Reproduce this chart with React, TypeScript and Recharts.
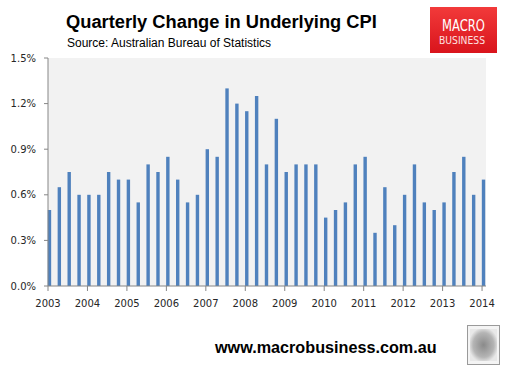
import { BarChart, Bar, XAxis, YAxis, CartesianGrid } from 'recharts'

const BAR_COLOR = '#4f81bd'
const AXIS_COLOR = '#868686'
const LABEL_COLOR = '#262626'

// quarterly change in underlying CPI, %, 2003 onwards
const QUARTER_VALUES = [
  0.5, 0.65, 0.75, 0.6,
  0.6, 0.6, 0.75, 0.7,
  0.7, 0.55, 0.8, 0.75,
  0.85, 0.7, 0.55, 0.6,
  0.9, 0.85, 1.3, 1.2,
  1.15, 1.25, 0.8, 1.1,
  0.75, 0.8, 0.8, 0.8,
  0.45, 0.5, 0.55, 0.8,
  0.85, 0.35, 0.65, 0.4,
  0.6, 0.8, 0.55, 0.5,
  0.55, 0.75, 0.85, 0.6,
  0.7,
]
const YEAR_LABELS = ['2003', '2004', '2005', '2006', '2007', '2008', '2009', '2010', '2011', '2012', '2013', '2014']
const Y_TICKS = [0, 0.3, 0.6, 0.9, 1.2, 1.5]

const data = QUARTER_VALUES.map((value, q) => ({ q, value }))
const yearTicks = YEAR_LABELS.map((_, i) => i * 4)

const tickStyle = { fontFamily: 'DejaVu Sans', fontSize: 10, fill: LABEL_COLOR }

// excel draws each bar starting at its date, not centred on it
function LeftBar(props: any) {
  const { x, y, width, height, fill } = props
  if (height <= 0) return null
  return <rect x={x + width / 2} y={y} width={width} height={height} fill={fill} />
}

export default function App() {
  return (
    <div style={{ position: 'absolute', left: 0, top: 0, width: 510, height: 366, background: '#fff', overflow: 'hidden' }}>
      <BarChart
        width={510}
        height={366}
        data={data}
        margin={{ top: 58, right: 24, bottom: 50, left: 0 }}
        style={{ position: 'absolute', left: 0, top: 0 }}
      >
        <CartesianGrid fill="#f2f2f2" horizontal={false} vertical={false} />
        <XAxis
          dataKey="q"
          type="number"
          domain={[0, 44.4]}
          ticks={yearTicks}
          interval={0}
          tickFormatter={(v: number) => YEAR_LABELS[v / 4]}
          height={30}
          tickSize={5}
          tickMargin={9}
          axisLine={{ stroke: AXIS_COLOR }}
          tickLine={{ stroke: AXIS_COLOR }}
          tick={tickStyle}
        />
        <YAxis
          domain={[0, 1.5]}
          ticks={Y_TICKS}
          interval={0}
          tickFormatter={(v: number) => `${v.toFixed(1)}%`}
          width={48}
          tickSize={4}
          tickMargin={8}
          axisLine={{ stroke: AXIS_COLOR }}
          tickLine={{ stroke: AXIS_COLOR }}
          tick={tickStyle}
        />
        <Bar dataKey="value" fill={BAR_COLOR} barSize={3.4} shape={LeftBar} isAnimationActive={false} />
      </BarChart>

      <svg width={510} height={366} style={{ position: 'absolute', left: 0, top: 0, pointerEvents: 'none' }}>
        <defs>
          <linearGradient id="logoRed" x1="0" y1="0" x2="0" y2="1">
            <stop offset="0%" stopColor="#f23a3a" />
            <stop offset="100%" stopColor="#d9141c" />
          </linearGradient>
          <radialGradient id="wolf" cx="50%" cy="50%" r="55%">
            <stop offset="0%" stopColor="#8a8a8a" />
            <stop offset="70%" stopColor="#b5b5b5" />
            <stop offset="100%" stopColor="#e8e8e8" />
          </radialGradient>
        </defs>

        <text x={66} y={28} fontFamily="Liberation Sans" fontWeight="bold" fontSize={18.3} fill="#000">
          Quarterly Change in Underlying CPI
        </text>
        <text x={67} y={46.5} fontFamily="Liberation Sans" fontSize={12} fill="#000">
          Source: Australian Bureau of Statistics
        </text>

        <rect x={430} y={7} width={67} height={46} fill="url(#logoRed)" />
        <text x={442} y={30.5} fontFamily="DejaVu Sans" fontSize={15} fill="#fff" textLength={43} lengthAdjust="spacingAndGlyphs">
          MACRO
        </text>
        <text x={439} y={43.5} fontFamily="DejaVu Sans" fontSize={10} fill="#fde0e0" textLength={46} lengthAdjust="spacingAndGlyphs">
          BUSINESS
        </text>

        <text x={215} y={352.5} fontFamily="Liberation Sans" fontWeight="bold" fontSize={16.2} fill="#000">
          www.macrobusiness.com.au
        </text>

        <rect x={467.5} y={325.5} width={32} height={39} fill="#f4f4f4" stroke="#9a9a9a" />
        <rect x={470} y={329} width={27} height={32} fill="url(#wolf)" />
      </svg>
    </div>
  )
}
